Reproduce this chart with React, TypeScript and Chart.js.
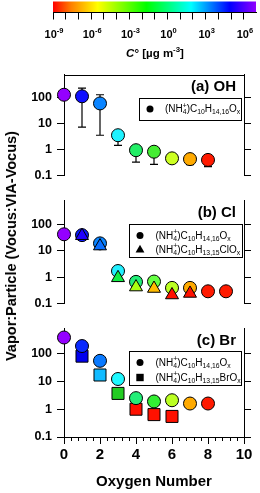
import React, { useEffect, useRef } from 'react';
import { Chart, registerables } from 'chart.js';

Chart.register(...registerables);

const FONT = "'Liberation Sans', Arial, Helvetica, sans-serif";

// ---------- colour bar: C° [µg m^-3] ----------
const cbMin = 1e-9;
const cbMax = 9e6;
const cbTickExponents = [-9, -8, -7, -6, -5, -4, -3, -2, -1, 0, 1, 2, 3, 4, 5, 6];
const cbLabelExponents = [-9, -6, -3, 0, 3, 6];
const cbLabelTexts = ['-9', '-6', '-3', '0', '3', '6'];

// ---------- shared axes ----------
const oxygenTicks = [0, 2, 4, 6, 8, 10];
const oxygenTickLabels = ['0', '2', '4', '6', '8', '10'];
const ratioTicks = [0.1, 1, 10, 100];
const ratioTickLabels = ['0.1', '1', '10', '100'];

// ---------- (a) OH ----------
const ohOxygen = [0, 1, 2, 3, 4, 5, 6, 7, 8];
const ohRatio = [132, 115, 61, 3.6, 0.95, 0.83, 0.46, 0.43, 0.4];
const ohErrHigh = [null, 237, 132, null, 1.23, 1.2, null, null, null];
const ohErrLow = [null, 7.4, 3.6, 1.46, 0.33, 0.27, null, 0.26, 0.22];

// ---------- (b) Cl ----------
const clOxygen = [0, 1, 2, 3, 4, 5, 6, 7, 8, 9];
const clRatio = [42, 39, 19, 1.7, 0.66, 0.68, 0.39, 0.39, 0.29, 0.29];
const clChlOxygen = [1, 2, 3, 4, 5, 6, 7];
const clChlRatio = [37, 15, 0.94, 0.42, 0.37, 0.21, 0.24];

// ---------- (c) Br ----------
const brOxygen = [0, 1, 2, 3, 4, 5, 6, 7, 8];
const brRatio = [380, 187, 55, 12.2, 2.5, 1.9, 2.1, 1.6, 1.6];
const brBrOxygen = [1, 2, 3, 4, 5, 6];
const brBrRatio = [81, 17, 3.7, 1.0, 0.64, 0.55];

// ---------- colours (from C° colour scale) ----------
const cbStops: [number, string][] = [
  [0, '#ff0000'],
  [0.09, '#ff8000'],
  [0.22, '#ffff00'],
  [0.46, '#00ff00'],
  [0.68, '#00ffff'],
  [0.87, '#0000ff'],
  [1, '#9000ff'],
];
const ohColors = ['#9400ff', '#1010ff', '#0a84ff', '#1ef2ff', '#22ee66', '#44ee33', '#ccff22', '#ffaa00', '#ff1a00'];
const clColors = ['#9400ff', '#0a1aff', '#0a84ff', '#22f0ff', '#22ee77', '#66ff44', '#bbff22', '#ffaa00', '#ff1a00', '#ff1a00'];
const clChlColors = ['#2200ff', '#0a6fff', '#11ee44', '#aaff11', '#ffbb00', '#ff1100', '#ff1100'];
const brColors = ['#9400ff', '#0a2aff', '#0a7aff', '#1ef8ff', '#22ee77', '#33ee33', '#bbff22', '#ffaa00', '#ff1a00'];
const brBrColors = ['#0000ee', '#11bbff', '#22cc22', '#ff1100', '#ff1100', '#ff1100'];

type Seg = { t?: string; sub?: string; sup?: string; italic?: boolean };

const legendSegsBase: Seg[] = [{ t: '(NH' }, { sub: '4', sup: '+' }, { t: ')C' }, { sub: '10' }, { t: 'H' }, { sub: '14,16' }, { t: 'O' }, { sub: 'x' }];
const legendSegsCl: Seg[] = [{ t: '(NH' }, { sub: '4', sup: '+' }, { t: ')C' }, { sub: '10' }, { t: 'H' }, { sub: '13,15' }, { t: 'ClO' }, { sub: 'x' }];
const legendSegsBr: Seg[] = [{ t: '(NH' }, { sub: '4', sup: '+' }, { t: ')C' }, { sub: '10' }, { t: 'H' }, { sub: '13,15' }, { t: 'BrO' }, { sub: 'x' }];

function drawRich(ctx: CanvasRenderingContext2D, x: number, y: number, segs: Seg[], size: number, weight: string, align: 'left' | 'center') {
  const small = size * 0.68;
  const fontOf = (s: number, it?: boolean) => `${it ? 'italic ' : ''}${weight} ${s}px ${FONT}`;
  const widths = segs.map((seg) => {
    if (seg.t) {
      ctx.font = fontOf(size, seg.italic);
      return ctx.measureText(seg.t).width;
    }
    ctx.font = fontOf(small);
    return Math.max(seg.sub ? ctx.measureText(seg.sub).width : 0, seg.sup ? ctx.measureText(seg.sup).width : 0);
  });
  const total = widths.reduce((a, b) => a + b, 0);
  let cx = align === 'center' ? x - total / 2 : x;
  ctx.textAlign = 'left';
  ctx.textBaseline = 'alphabetic';
  ctx.fillStyle = '#000';
  segs.forEach((seg, i) => {
    if (seg.t) {
      ctx.font = fontOf(size, seg.italic);
      ctx.fillText(seg.t, cx, y);
    } else {
      ctx.font = fontOf(small);
      if (seg.sub) ctx.fillText(seg.sub, cx, y + size * 0.24);
      if (seg.sup) ctx.fillText(seg.sup, cx, y - size * 0.42);
    }
    cx += widths[i];
  });
}

function drawMarker(ctx: CanvasRenderingContext2D, style: string, x: number, y: number) {
  ctx.beginPath();
  if (style === 'circle') {
    ctx.arc(x, y, 3.5, 0, Math.PI * 2);
  } else if (style === 'triangle') {
    ctx.moveTo(x, y - 4.8);
    ctx.lineTo(x + 4.4, y + 3);
    ctx.lineTo(x - 4.4, y + 3);
    ctx.closePath();
  } else {
    ctx.rect(x - 3.7, y - 3.7, 7.4, 7.4);
  }
  ctx.fillStyle = '#000';
  ctx.fill();
}

function makeColorbar(canvas: HTMLCanvasElement) {
  const plugin = {
    id: 'cbar',
    beforeDraw(chart: any) {
      const { ctx, chartArea: a } = chart;
      const g = ctx.createLinearGradient(a.left, 0, a.right, 0);
      cbStops.forEach(([p, c]) => g.addColorStop(p, c));
      ctx.save();
      ctx.fillStyle = g;
      ctx.fillRect(a.left, a.top, a.right - a.left, a.bottom - a.top);
      ctx.restore();
    },
    afterDraw(chart: any) {
      const { ctx } = chart;
      const xs = chart.scales.x;
      ctx.save();
      cbLabelExponents.forEach((e, i) => {
        const px = xs.getPixelForValue(Math.pow(10, e));
        drawRich(ctx, px + 1, 37.5, [{ t: '10' }, { sup: cbLabelTexts[i] }], 11, 'bold', 'center');
      });
      drawRich(ctx, 155, 57, [{ t: 'C', italic: true }, { t: '° [µg m' }, { sup: '-3' }, { t: ']' }], 11.5, 'bold', 'center');
      ctx.restore();
    },
  };
  return new Chart(canvas, {
    type: 'scatter',
    data: { datasets: [{ data: [] }] },
    options: {
      animation: false,
      responsive: false,
      devicePixelRatio: 1,
      events: [],
      layout: { padding: { left: 53, right: 4, top: 1.5, bottom: 0 } },
      plugins: { legend: { display: false }, tooltip: { enabled: false } },
      scales: {
        x: {
          type: 'logarithmic',
          min: cbMin,
          max: cbMax,
          position: 'bottom',
          afterBuildTicks: (s: any) => {
            s.ticks = cbTickExponents.map((e) => ({ value: Math.pow(10, e) }));
          },
          afterFit: (s: any) => {
            s.height = 49.5;
          },
          ticks: { display: false },
          grid: { drawOnChartArea: false, tickLength: 7, color: '#000', lineWidth: 1 },
          border: { display: true, color: '#000', width: 1 },
        },
        y: { display: false, min: 0, max: 1 },
      },
    } as any,
    plugins: [plugin],
  });
}

type LegendRow = { style: string; segs: Seg[]; dy: number };
type PanelCfg = {
  datasets: any[];
  padTop: number;
  padBottom: number;
  showX: boolean;
  topLine: boolean;
  label: string;
  legendBox: [number, number, number, number]; // left, top offset, right, bottom offset
  markerX: number;
  textX: number;
  rows: LegendRow[];
  errors?: { x: number[]; y: number[]; hi: (number | null)[]; lo: (number | null)[] };
};

function yAxis(position: 'left' | 'right', width: number, showLabels: boolean) {
  return {
    type: 'logarithmic',
    position,
    min: 0.1,
    max: 800,
    afterBuildTicks: (s: any) => {
      s.ticks = ratioTicks.map((v) => ({ value: v }));
    },
    afterFit: (s: any) => {
      s.width = width;
    },
    ticks: {
      display: showLabels,
      autoSkip: false,
      padding: 5,
      color: '#000',
      font: { family: FONT, size: 12.5, weight: 'bold' },
      callback: (_v: any, i: number) => ratioTickLabels[i],
    },
    grid: { drawOnChartArea: false, tickLength: 7, color: '#000', lineWidth: 1 },
    border: { display: true, color: '#000', width: 1 },
  };
}

function makePanel(canvas: HTMLCanvasElement, cfg: PanelCfg) {
  const plugin = {
    id: 'panelDecor',
    beforeDatasetsDraw(chart: any) {
      if (!cfg.errors) return;
      const { ctx } = chart;
      const xs = chart.scales.x;
      const ys = chart.scales.y;
      ctx.save();
      ctx.strokeStyle = '#000';
      ctx.lineWidth = 1.2;
      cfg.errors.x.forEach((xv, i) => {
        const px = xs.getPixelForValue(xv);
        const py = ys.getPixelForValue(cfg.errors!.y[i]);
        [cfg.errors!.hi[i], cfg.errors!.lo[i]].forEach((ev) => {
          if (ev == null) return;
          const pe = ys.getPixelForValue(ev);
          ctx.beginPath();
          ctx.moveTo(px, py);
          ctx.lineTo(px, pe);
          ctx.moveTo(px - 4, pe);
          ctx.lineTo(px + 4, pe);
          ctx.stroke();
        });
      });
      ctx.restore();
    },
    afterDraw(chart: any) {
      const { ctx, chartArea: a } = chart;
      ctx.save();
      if (cfg.topLine) {
        ctx.strokeStyle = '#000';
        ctx.lineWidth = 1;
        ctx.beginPath();
        ctx.moveTo(a.left, Math.round(a.top) + 0.5);
        ctx.lineTo(a.right + 0.5, Math.round(a.top) + 0.5);
        ctx.stroke();
      }
      if (cfg.showX) {
        const xs = chart.scales.x;
        ctx.strokeStyle = '#000';
        ctx.lineWidth = 1;
        for (let k = 1; k < 25; k++) {
          if (k % 5 === 0) continue;
          const px = Math.round(xs.getPixelForValue(k * 0.4)) + 0.5;
          ctx.beginPath();
          ctx.moveTo(px, xs.top);
          ctx.lineTo(px, xs.top + 4);
          ctx.stroke();
        }
      }
      // panel label
      ctx.fillStyle = '#000';
      ctx.font = `bold 15px ${FONT}`;
      ctx.textAlign = 'right';
      ctx.textBaseline = 'middle';
      ctx.fillText(cfg.label, 236, a.top + 12);
      // legend box
      const [l, t, r, b] = cfg.legendBox;
      const top = Math.round(a.top + t) + 0.5;
      const bot = Math.round(a.top + b) + 0.5;
      ctx.fillStyle = '#fff';
      ctx.fillRect(l, top, r - l, bot - top);
      ctx.strokeStyle = '#000';
      ctx.lineWidth = 1;
      ctx.strokeRect(l + 0.5, top, r - l, bot - top);
      cfg.rows.forEach((row) => {
        const cy = a.top + row.dy;
        drawMarker(ctx, row.style, cfg.markerX, cy);
        drawRich(ctx, cfg.textX, cy + 3, row.segs, 10, 'normal', 'left');
      });
      ctx.restore();
    },
  };

  const xAxis: any = cfg.showX
    ? {
        type: 'linear',
        position: 'bottom',
        min: 0,
        max: 10,
        afterBuildTicks: (s: any) => {
          s.ticks = oxygenTicks.map((v) => ({ value: v }));
        },
        afterFit: (s: any) => {
          s.height = 56;
        },
        ticks: {
          autoSkip: false,
          maxRotation: 0,
          padding: 2,
          color: '#000',
          font: { family: FONT, size: 15, weight: 'bold' },
          callback: (_v: any, i: number) => oxygenTickLabels[i],
        },
        grid: { drawOnChartArea: false, tickLength: 7, color: '#000', lineWidth: 1 },
        border: { display: true, color: '#000', width: 1 },
        title: {
          display: true,
          text: 'Oxygen Number',
          color: '#000',
          font: { family: FONT, size: 15, weight: 'bold' },
          padding: { top: 0, bottom: 2 },
        },
      }
    : { type: 'linear', min: 0, max: 10, display: false };

  return new Chart(canvas, {
    type: 'scatter',
    data: { datasets: cfg.datasets },
    options: {
      animation: false,
      responsive: false,
      devicePixelRatio: 1,
      events: [],
      layout: { padding: { left: 0, right: 0, top: cfg.padTop, bottom: cfg.showX ? 0 : cfg.padBottom } },
      plugins: { legend: { display: false }, tooltip: { enabled: false } },
      scales: {
        x: xAxis,
        y: yAxis('left', 64, true),
        y2: yAxis('right', 16, false),
      },
    } as any,
    plugins: [plugin],
  });
}

function pts(xs: number[], ys: number[]) {
  return xs.map((x, i) => ({ x, y: ys[i] }));
}

function ds(xs: number[], ys: number[], colors: string[], style: string, radius: number, order: number) {
  return {
    data: pts(xs, ys),
    pointStyle: style,
    pointRadius: radius,
    pointBackgroundColor: colors,
    pointBorderColor: '#000',
    pointBorderWidth: 1,
    showLine: false,
    clip: false,
    order,
    yAxisID: 'y',
  };
}

export default function App() {
  const cbRef = useRef<HTMLCanvasElement>(null);
  const aRef = useRef<HTMLCanvasElement>(null);
  const bRef = useRef<HTMLCanvasElement>(null);
  const cRef = useRef<HTMLCanvasElement>(null);

  useEffect(() => {
    const charts: Chart[] = [];
    charts.push(makeColorbar(cbRef.current!));
    charts.push(
      makePanel(aRef.current!, {
        datasets: [ds(ohOxygen, ohRatio, ohColors, 'circle', 6.5, 1)],
        padTop: 4,
        padBottom: 11,
        showX: false,
        topLine: true,
        label: '(a) OH',
        legendBox: [139, 23, 241, 45],
        markerX: 150,
        textX: 165,
        rows: [{ style: 'circle', segs: legendSegsBase, dy: 34.5 }],
        errors: { x: ohOxygen, y: ohRatio, hi: ohErrHigh, lo: ohErrLow },
      })
    );
    charts.push(
      makePanel(bRef.current!, {
        datasets: [
          ds(clOxygen, clRatio, clColors, 'circle', 6.5, 2),
          ds(clChlOxygen, clChlRatio, clChlColors, 'triangle', 7.5, 1),
        ],
        padTop: 7,
        padBottom: 10,
        showX: false,
        topLine: false,
        label: '(b) Cl',
        legendBox: [129, 23, 242, 56],
        markerX: 140,
        textX: 155.5,
        rows: [
          { style: 'circle', segs: legendSegsBase, dy: 35 },
          { style: 'triangle', segs: legendSegsCl, dy: 49 },
        ],
      })
    );
    charts.push(
      makePanel(cRef.current!, {
        datasets: [
          ds(brOxygen, brRatio, brColors, 'circle', 6.5, 1),
          ds(brBrOxygen, brBrRatio, brBrColors, 'rect', 8.5, 2),
        ],
        padTop: 9,
        padBottom: 0,
        showX: true,
        topLine: false,
        label: '(c) Br',
        legendBox: [129, 22, 241, 56],
        markerX: 140,
        textX: 155.5,
        rows: [
          { style: 'circle', segs: legendSegsBase, dy: 34 },
          { style: 'rect', segs: legendSegsBr, dy: 49 },
        ],
      })
    );
    return () => charts.forEach((c) => c.destroy());
  }, []);

  return (
    <div style={{ position: 'absolute', left: 0, top: 0, width: 260, height: 493, background: '#fff', overflow: 'hidden' }}>
      <canvas ref={cbRef} width={260} height={62} style={{ position: 'absolute', left: 0, top: 0, width: 260, height: 62 }} />
      <canvas ref={aRef} width={260} height={126} style={{ position: 'absolute', left: 0, top: 62, width: 260, height: 126 }} />
      <canvas ref={bRef} width={260} height={128} style={{ position: 'absolute', left: 0, top: 188, width: 260, height: 128 }} />
      <canvas ref={cRef} width={260} height={177} style={{ position: 'absolute', left: 0, top: 316, width: 260, height: 177 }} />
      <div
        style={{
          position: 'absolute',
          left: 11,
          top: 246,
          transform: 'translate(-50%, -50%) rotate(-90deg)',
          whiteSpace: 'nowrap',
          font: `bold 14.5px ${FONT}`,
          color: '#000',
          lineHeight: '16px',
        }}
      >
        Vapor:Particle (Vocus:VIA-Vocus)
      </div>
    </div>
  );
}
